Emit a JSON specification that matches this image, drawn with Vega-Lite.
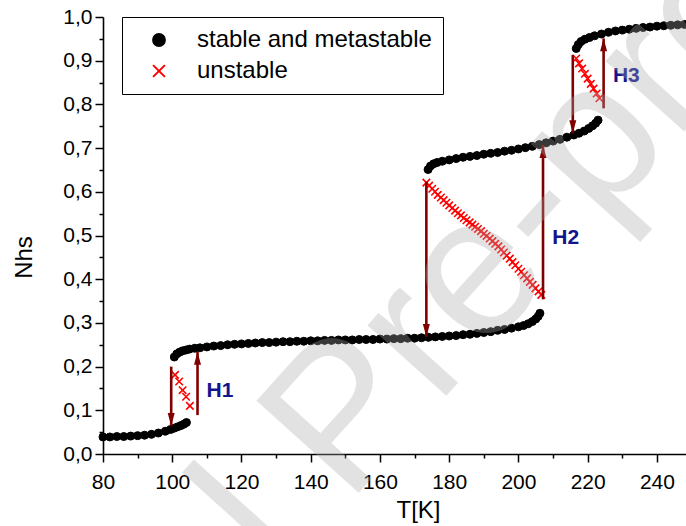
{
  "$schema": "https://vega.github.io/schema/vega-lite/v6.json",
  "width": 583,
  "height": 437,
  "autosize": {"type": "none"},
  "padding": {"left": 103, "top": 17, "right": 0, "bottom": 72},
  "background": "white",
  "config": {"font": "Liberation Sans", "view": {"stroke": null}},
  "datasets": {
    "pts": [
      {"T": 80, "N": 0.039, "type": "stable and metastable"},
      {"T": 82, "N": 0.039, "type": "stable and metastable"},
      {"T": 84, "N": 0.040, "type": "stable and metastable"},
      {"T": 86, "N": 0.040, "type": "stable and metastable"},
      {"T": 88, "N": 0.041, "type": "stable and metastable"},
      {"T": 90, "N": 0.042, "type": "stable and metastable"},
      {"T": 92, "N": 0.043, "type": "stable and metastable"},
      {"T": 94, "N": 0.045, "type": "stable and metastable"},
      {"T": 96, "N": 0.048, "type": "stable and metastable"},
      {"T": 98, "N": 0.052, "type": "stable and metastable"},
      {"T": 99.5, "N": 0.056, "type": "stable and metastable"},
      {"T": 100.5, "N": 0.059, "type": "stable and metastable"},
      {"T": 101.5, "N": 0.062, "type": "stable and metastable"},
      {"T": 102.5, "N": 0.065, "type": "stable and metastable"},
      {"T": 103.3, "N": 0.068, "type": "stable and metastable"},
      {"T": 104.1, "N": 0.072, "type": "stable and metastable"},
      {"T": 100.6, "N": 0.222, "type": "stable and metastable"},
      {"T": 101.3, "N": 0.229, "type": "stable and metastable"},
      {"T": 102.1, "N": 0.233, "type": "stable and metastable"},
      {"T": 103, "N": 0.236, "type": "stable and metastable"},
      {"T": 104, "N": 0.238, "type": "stable and metastable"},
      {"T": 105, "N": 0.240, "type": "stable and metastable"},
      {"T": 106.5, "N": 0.242, "type": "stable and metastable"},
      {"T": 108, "N": 0.243, "type": "stable and metastable"},
      {"T": 110, "N": 0.245, "type": "stable and metastable"},
      {"T": 112, "N": 0.247, "type": "stable and metastable"},
      {"T": 114, "N": 0.248, "type": "stable and metastable"},
      {"T": 116, "N": 0.250, "type": "stable and metastable"},
      {"T": 118, "N": 0.251, "type": "stable and metastable"},
      {"T": 120, "N": 0.252, "type": "stable and metastable"},
      {"T": 122, "N": 0.253, "type": "stable and metastable"},
      {"T": 124, "N": 0.254, "type": "stable and metastable"},
      {"T": 126, "N": 0.255, "type": "stable and metastable"},
      {"T": 128, "N": 0.255, "type": "stable and metastable"},
      {"T": 130, "N": 0.256, "type": "stable and metastable"},
      {"T": 132, "N": 0.257, "type": "stable and metastable"},
      {"T": 134, "N": 0.257, "type": "stable and metastable"},
      {"T": 136, "N": 0.258, "type": "stable and metastable"},
      {"T": 138, "N": 0.258, "type": "stable and metastable"},
      {"T": 140, "N": 0.259, "type": "stable and metastable"},
      {"T": 142, "N": 0.259, "type": "stable and metastable"},
      {"T": 144, "N": 0.260, "type": "stable and metastable"},
      {"T": 146, "N": 0.260, "type": "stable and metastable"},
      {"T": 148, "N": 0.261, "type": "stable and metastable"},
      {"T": 150, "N": 0.261, "type": "stable and metastable"},
      {"T": 152, "N": 0.261, "type": "stable and metastable"},
      {"T": 154, "N": 0.262, "type": "stable and metastable"},
      {"T": 156, "N": 0.262, "type": "stable and metastable"},
      {"T": 158, "N": 0.262, "type": "stable and metastable"},
      {"T": 160, "N": 0.263, "type": "stable and metastable"},
      {"T": 162, "N": 0.263, "type": "stable and metastable"},
      {"T": 164, "N": 0.264, "type": "stable and metastable"},
      {"T": 166, "N": 0.264, "type": "stable and metastable"},
      {"T": 168, "N": 0.265, "type": "stable and metastable"},
      {"T": 170, "N": 0.265, "type": "stable and metastable"},
      {"T": 172, "N": 0.266, "type": "stable and metastable"},
      {"T": 174, "N": 0.267, "type": "stable and metastable"},
      {"T": 176, "N": 0.268, "type": "stable and metastable"},
      {"T": 178, "N": 0.269, "type": "stable and metastable"},
      {"T": 180, "N": 0.270, "type": "stable and metastable"},
      {"T": 182, "N": 0.271, "type": "stable and metastable"},
      {"T": 184, "N": 0.273, "type": "stable and metastable"},
      {"T": 186, "N": 0.274, "type": "stable and metastable"},
      {"T": 188, "N": 0.276, "type": "stable and metastable"},
      {"T": 190, "N": 0.278, "type": "stable and metastable"},
      {"T": 192, "N": 0.280, "type": "stable and metastable"},
      {"T": 194, "N": 0.283, "type": "stable and metastable"},
      {"T": 196, "N": 0.285, "type": "stable and metastable"},
      {"T": 198, "N": 0.288, "type": "stable and metastable"},
      {"T": 200, "N": 0.291, "type": "stable and metastable"},
      {"T": 201.5, "N": 0.294, "type": "stable and metastable"},
      {"T": 202.8, "N": 0.298, "type": "stable and metastable"},
      {"T": 204, "N": 0.303, "type": "stable and metastable"},
      {"T": 205, "N": 0.309, "type": "stable and metastable"},
      {"T": 205.7, "N": 0.315, "type": "stable and metastable"},
      {"T": 206.2, "N": 0.322, "type": "stable and metastable"},
      {"T": 173.9, "N": 0.651, "type": "stable and metastable"},
      {"T": 174.6, "N": 0.659, "type": "stable and metastable"},
      {"T": 175.5, "N": 0.664, "type": "stable and metastable"},
      {"T": 176.5, "N": 0.667, "type": "stable and metastable"},
      {"T": 178, "N": 0.670, "type": "stable and metastable"},
      {"T": 180, "N": 0.673, "type": "stable and metastable"},
      {"T": 182, "N": 0.676, "type": "stable and metastable"},
      {"T": 184, "N": 0.679, "type": "stable and metastable"},
      {"T": 186, "N": 0.681, "type": "stable and metastable"},
      {"T": 188, "N": 0.683, "type": "stable and metastable"},
      {"T": 190, "N": 0.686, "type": "stable and metastable"},
      {"T": 192, "N": 0.688, "type": "stable and metastable"},
      {"T": 194, "N": 0.690, "type": "stable and metastable"},
      {"T": 196, "N": 0.693, "type": "stable and metastable"},
      {"T": 198, "N": 0.695, "type": "stable and metastable"},
      {"T": 200, "N": 0.698, "type": "stable and metastable"},
      {"T": 202, "N": 0.701, "type": "stable and metastable"},
      {"T": 204, "N": 0.704, "type": "stable and metastable"},
      {"T": 206, "N": 0.708, "type": "stable and metastable"},
      {"T": 208, "N": 0.712, "type": "stable and metastable"},
      {"T": 210, "N": 0.716, "type": "stable and metastable"},
      {"T": 212, "N": 0.720, "type": "stable and metastable"},
      {"T": 214, "N": 0.725, "type": "stable and metastable"},
      {"T": 216, "N": 0.730, "type": "stable and metastable"},
      {"T": 217.5, "N": 0.734, "type": "stable and metastable"},
      {"T": 219, "N": 0.739, "type": "stable and metastable"},
      {"T": 220.3, "N": 0.745, "type": "stable and metastable"},
      {"T": 221.4, "N": 0.751, "type": "stable and metastable"},
      {"T": 222.3, "N": 0.757, "type": "stable and metastable"},
      {"T": 223, "N": 0.764, "type": "stable and metastable"},
      {"T": 216.7, "N": 0.928, "type": "stable and metastable"},
      {"T": 217.3, "N": 0.937, "type": "stable and metastable"},
      {"T": 218.1, "N": 0.944, "type": "stable and metastable"},
      {"T": 219.2, "N": 0.949, "type": "stable and metastable"},
      {"T": 220.5, "N": 0.953, "type": "stable and metastable"},
      {"T": 222, "N": 0.957, "type": "stable and metastable"},
      {"T": 224, "N": 0.961, "type": "stable and metastable"},
      {"T": 226, "N": 0.965, "type": "stable and metastable"},
      {"T": 228, "N": 0.968, "type": "stable and metastable"},
      {"T": 230, "N": 0.970, "type": "stable and metastable"},
      {"T": 232, "N": 0.972, "type": "stable and metastable"},
      {"T": 234, "N": 0.974, "type": "stable and metastable"},
      {"T": 236, "N": 0.976, "type": "stable and metastable"},
      {"T": 238, "N": 0.977, "type": "stable and metastable"},
      {"T": 240, "N": 0.979, "type": "stable and metastable"},
      {"T": 242, "N": 0.980, "type": "stable and metastable"},
      {"T": 244, "N": 0.981, "type": "stable and metastable"},
      {"T": 246, "N": 0.982, "type": "stable and metastable"},
      {"T": 248, "N": 0.983, "type": "stable and metastable"},
      {"T": 250, "N": 0.984, "type": "stable and metastable"},
      {"T": 100.8, "N": 0.181, "type": "unstable"},
      {"T": 102.0, "N": 0.166, "type": "unstable"},
      {"T": 103.0, "N": 0.146, "type": "unstable"},
      {"T": 104.0, "N": 0.131, "type": "unstable"},
      {"T": 105.1, "N": 0.110, "type": "unstable"},
      {"T": 173.4, "N": 0.621, "type": "unstable"},
      {"T": 174.2, "N": 0.614, "type": "unstable"},
      {"T": 175.1, "N": 0.607, "type": "unstable"},
      {"T": 175.9, "N": 0.600, "type": "unstable"},
      {"T": 176.7, "N": 0.593, "type": "unstable"},
      {"T": 177.6, "N": 0.587, "type": "unstable"},
      {"T": 178.4, "N": 0.581, "type": "unstable"},
      {"T": 179.2, "N": 0.575, "type": "unstable"},
      {"T": 180.0, "N": 0.569, "type": "unstable"},
      {"T": 180.9, "N": 0.563, "type": "unstable"},
      {"T": 181.7, "N": 0.557, "type": "unstable"},
      {"T": 182.5, "N": 0.551, "type": "unstable"},
      {"T": 183.4, "N": 0.546, "type": "unstable"},
      {"T": 184.2, "N": 0.540, "type": "unstable"},
      {"T": 185.0, "N": 0.535, "type": "unstable"},
      {"T": 185.9, "N": 0.530, "type": "unstable"},
      {"T": 186.7, "N": 0.525, "type": "unstable"},
      {"T": 187.5, "N": 0.520, "type": "unstable"},
      {"T": 188.3, "N": 0.515, "type": "unstable"},
      {"T": 189.2, "N": 0.510, "type": "unstable"},
      {"T": 190.0, "N": 0.504, "type": "unstable"},
      {"T": 190.8, "N": 0.499, "type": "unstable"},
      {"T": 191.7, "N": 0.493, "type": "unstable"},
      {"T": 192.5, "N": 0.487, "type": "unstable"},
      {"T": 193.3, "N": 0.481, "type": "unstable"},
      {"T": 194.2, "N": 0.475, "type": "unstable"},
      {"T": 195.0, "N": 0.468, "type": "unstable"},
      {"T": 195.8, "N": 0.461, "type": "unstable"},
      {"T": 196.6, "N": 0.454, "type": "unstable"},
      {"T": 197.5, "N": 0.447, "type": "unstable"},
      {"T": 198.3, "N": 0.439, "type": "unstable"},
      {"T": 199.1, "N": 0.432, "type": "unstable"},
      {"T": 200.0, "N": 0.424, "type": "unstable"},
      {"T": 200.8, "N": 0.417, "type": "unstable"},
      {"T": 201.6, "N": 0.409, "type": "unstable"},
      {"T": 202.5, "N": 0.402, "type": "unstable"},
      {"T": 203.3, "N": 0.394, "type": "unstable"},
      {"T": 204.1, "N": 0.387, "type": "unstable"},
      {"T": 204.9, "N": 0.379, "type": "unstable"},
      {"T": 205.8, "N": 0.372, "type": "unstable"},
      {"T": 206.6, "N": 0.364, "type": "unstable"},
      {"T": 216.7, "N": 0.905, "type": "unstable"},
      {"T": 217.5, "N": 0.894, "type": "unstable"},
      {"T": 218.4, "N": 0.882, "type": "unstable"},
      {"T": 219.2, "N": 0.870, "type": "unstable"},
      {"T": 220.0, "N": 0.859, "type": "unstable"},
      {"T": 220.9, "N": 0.847, "type": "unstable"},
      {"T": 221.7, "N": 0.836, "type": "unstable"},
      {"T": 222.6, "N": 0.825, "type": "unstable"},
      {"T": 223.4, "N": 0.814, "type": "unstable"}
    ],
    "arrows": [
      {"T": 99.7, "N": 0.200, "N2": 0.064, "dir": "down"},
      {"T": 107.3, "N": 0.089, "N2": 0.234, "dir": "up"},
      {"T": 173.4, "N": 0.623, "N2": 0.268, "dir": "down"},
      {"T": 207.1, "N": 0.354, "N2": 0.707, "dir": "up"},
      {"T": 215.7, "N": 0.913, "N2": 0.734, "dir": "down"},
      {"T": 224.6, "N": 0.791, "N2": 0.951, "dir": "up"}
    ],
    "heads": [
      {"T": 99.7, "N": 0.064, "dir": "down"},
      {"T": 107.3, "N": 0.234, "dir": "up"},
      {"T": 173.4, "N": 0.268, "dir": "down"},
      {"T": 207.1, "N": 0.707, "dir": "up"},
      {"T": 215.7, "N": 0.734, "dir": "down"},
      {"T": 224.6, "N": 0.951, "dir": "up"}
    ],
    "labels": [
      {"T": 109.9, "N": 0.145, "label": "H1"},
      {"T": 209.8, "N": 0.495, "label": "H2"},
      {"T": 227.3, "N": 0.866, "label": "H3"}
    ],
    "wm": [
      {"T": 162.5, "N": -0.013, "label": "Journal Pre-proof"}
    ]
  },
  "encoding": {
    "x": {
      "field": "T", "type": "quantitative",
      "scale": {"domain": [80, 248.4], "nice": false, "zero": false},
      "axis": {
        "values": [80, 90, 100, 110, 120, 130, 140, 150, 160, 170, 180, 190, 200, 210, 220, 230, 240],
        "title": "T[K]", "grid": false,
        "domainColor": "black", "domainWidth": 1.6,
        "tickColor": "black", "tickWidth": 1.5,
        "tickSize": {"condition": {"test": "datum.value % 20 === 0", "value": 8}, "value": 4},
        "labelExpr": "datum.value % 20 === 0 ? datum.label : ''",
        "labelFontSize": 21, "labelColor": "black", "labelPadding": 9, "labelFlush": false, "labelOverlap": false,
        "titleFontSize": 24, "titleFontWeight": "normal", "titleColor": "black",
        "titleX": 315, "titleY": 63, "titleBaseline": "alphabetic", "titleAlign": "center"
      }
    },
    "y": {
      "field": "N", "type": "quantitative",
      "scale": {"domain": [0, 1], "nice": false, "zero": false},
      "axis": {
        "values": [0, 0.05, 0.1, 0.15, 0.2, 0.25, 0.3, 0.35, 0.4, 0.45, 0.5, 0.55, 0.6, 0.65, 0.7, 0.75, 0.8, 0.85, 0.9, 0.95, 1],
        "title": "Nhs", "grid": false,
        "domainColor": "black", "domainWidth": 1.6,
        "tickColor": "black", "tickWidth": 1.5,
        "tickSize": {"condition": {"test": "round(datum.value * 100) % 10 === 0", "value": 8}, "value": 4},
        "labelExpr": "round(datum.value * 100) % 10 === 0 ? replace(format(datum.value, '.1f'), '.', ',') : ''",
        "labelFontSize": 21, "labelColor": "black", "labelPadding": 3, "labelFlush": false, "labelOverlap": false,
        "titleFontSize": 24, "titleFontWeight": "normal", "titleColor": "black",
        "titleX": -79, "titleY": 240, "titleAngle": -90, "titleBaseline": "middle", "titleAlign": "center"
      }
    }
  },
  "layer": [
    {
      "data": {"name": "pts"},
      "mark": {"type": "point", "opacity": 1},
      "encoding": {
        "shape": {
          "field": "type", "type": "nominal",
          "scale": {"domain": ["stable and metastable", "unstable"], "range": ["circle", "M-1,-1L1,1M-1,1L1,-1"]},
          "legend": {"title": null, "orient": "none", "legendX": 19, "legendY": 0, "padding": 11, "strokeColor": "black", "fillColor": "white", "symbolSize": 140, "symbolStrokeWidth": 2, "labelFontSize": 24, "labelFont": "Liberation Sans", "labelColor": "black", "labelOffset": 26, "symbolOffset": 14, "rowPadding": 7, "labelLimit": 400, "labelExpr": "datum.label + '\u00a0\u00a0\u00a0\u00a0\u00a0'"}
        },
        "fill": {
          "field": "type", "type": "nominal",
          "scale": {"domain": ["stable and metastable", "unstable"], "range": ["black", "transparent"]},
          "legend": {"title": null, "orient": "none", "legendX": 19, "legendY": 0, "padding": 11, "strokeColor": "black", "fillColor": "white", "symbolSize": 140, "symbolStrokeWidth": 2, "labelFontSize": 24, "labelFont": "Liberation Sans", "labelColor": "black", "labelOffset": 26, "symbolOffset": 14, "rowPadding": 7, "labelLimit": 400, "labelExpr": "datum.label + '\u00a0\u00a0\u00a0\u00a0\u00a0'"}
        },
        "stroke": {
          "field": "type", "type": "nominal",
          "scale": {"domain": ["stable and metastable", "unstable"], "range": ["black", "#ff0000"]},
          "legend": {"title": null, "orient": "none", "legendX": 19, "legendY": 0, "padding": 11, "strokeColor": "black", "fillColor": "white", "symbolSize": 140, "symbolStrokeWidth": 2, "labelFontSize": 24, "labelFont": "Liberation Sans", "labelColor": "black", "labelOffset": 26, "symbolOffset": 14, "rowPadding": 7, "labelLimit": 400, "labelExpr": "datum.label + '\u00a0\u00a0\u00a0\u00a0\u00a0'"}
        },
        "size": {"condition": {"test": "datum.type === 'unstable'", "value": 56}, "value": 64},
        "strokeWidth": {"condition": {"test": "datum.type === 'unstable'", "value": 1.6}, "value": 1}
      }
    },
    {
      "data": {"name": "arrows"},
      "mark": {"type": "rule", "color": "#800000", "strokeWidth": 2.6},
      "encoding": {
        "y2": {"field": "N2"}
      }
    },
    {
      "data": {"name": "heads"},
      "transform": [{"filter": "datum.dir === 'down'"}],
      "mark": {"type": "point", "shape": "M-1,-3.7L1,-3.7L0,0Z", "size": 49, "filled": true, "color": "#800000", "opacity": 1, "strokeWidth": 0},
      "encoding": {}
    },
    {
      "data": {"name": "heads"},
      "transform": [{"filter": "datum.dir === 'up'"}],
      "mark": {"type": "point", "shape": "M-1,3.7L1,3.7L0,0Z", "size": 49, "filled": true, "color": "#800000", "opacity": 1, "strokeWidth": 0},
      "encoding": {}
    },
    {
      "data": {"name": "labels"},
      "mark": {"type": "text", "align": "left", "baseline": "middle", "fontSize": 21, "fontWeight": "bold", "color": "#14148c", "font": "Liberation Sans"},
      "encoding": {"text": {"field": "label"}}
    },
    {
      "data": {"name": "wm"},
      "mark": {"type": "text", "align": "center", "baseline": "alphabetic", "fontSize": 200, "angle": -48, "color": "#aaaaaa", "opacity": 0.33, "font": "Liberation Sans"},
      "encoding": {"text": {"field": "label"}}
    }
  ]
}
